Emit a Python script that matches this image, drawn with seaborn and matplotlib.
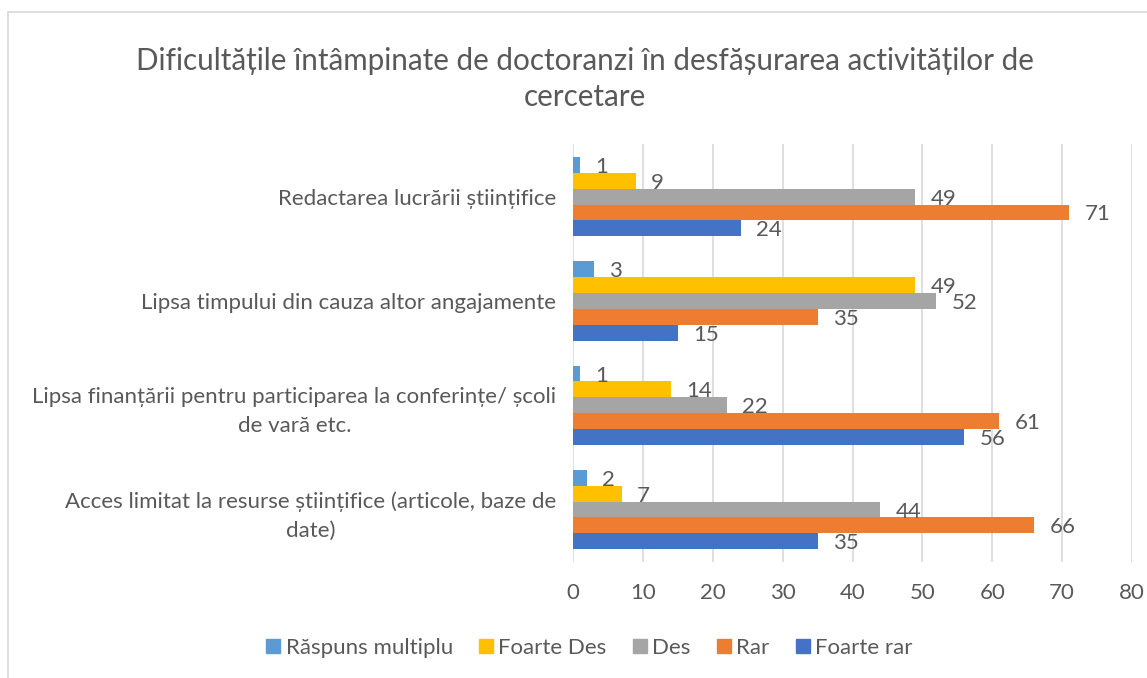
import matplotlib
matplotlib.use("Agg")
import matplotlib.pyplot as plt
import seaborn as sns
import pandas as pd
from matplotlib.lines import Line2D

categories = [
    "Redactarea lucrării științifice",
    "Lipsa timpului din cauza altor angajamente",
    "Lipsa finanțării pentru participarea la conferințe/ școli\nde vară etc.",
    "Acces limitat la resurse științifice (articole, baze de\ndate)",
]
series = ["Răspuns multiplu", "Foarte Des", "Des", "Rar", "Foarte rar"]
raspuns_multiplu = [1, 3, 1, 2]
foarte_des = [9, 49, 14, 7]
des = [49, 52, 22, 44]
rar = [71, 35, 61, 66]
foarte_rar = [24, 15, 56, 35]
colors = ["#5B9BD5", "#FFC000", "#A5A5A5", "#ED7D31", "#4472C4"]
title = "Dificultățile întâmpinate de doctoranzi în desfășurarea activităților de\ncercetare"
xticks = [0, 10, 20, 30, 40, 50, 60, 70, 80]

values = [raspuns_multiplu, foarte_des, des, rar, foarte_rar]
rows = []
for s, vals in zip(series, values):
    for c, v in zip(categories, vals):
        rows.append({"Categorie": c, "Serie": s, "Valoare": v})
df = pd.DataFrame(rows)

sns.set_theme(style="white")
plt.rcParams["font.family"] = ["Lato", "DejaVu Sans"]
text_color = "#595959"
fs = 16

fig = plt.figure(figsize=(11.47, 6.78), dpi=100)
ax = fig.add_axes([0.4996, 0.1715, 0.4873, 0.6154])

sns.barplot(data=df, y="Categorie", x="Valoare", hue="Serie", order=categories,
            hue_order=series, palette=colors, saturation=1, orient="h",
            width=0.76, gap=0, linewidth=0, ax=ax, legend=False)

for cont in ax.containers:
    labels = ax.bar_label(cont, padding=11, fontsize=fs, color=text_color)
    for t in labels:
        t.set_va("center_baseline")

ax.set_xlim(0, 80)
ax.set_ylim(3.5, -0.5)
ax.set_xticks(xticks)
ax.set_xticklabels([str(t) for t in xticks])
ax.set_yticks(range(len(categories)))
ax.set_yticklabels(categories, multialignment="center", linespacing=1.55)
ax.xaxis.grid(True, color="#D9D9D9", linewidth=1.2)
ax.set_axisbelow(True)
for sp in ax.spines.values():
    sp.set_visible(False)
ax.set_xlabel("")
ax.set_ylabel("")
ax.tick_params(axis="x", length=0, pad=15, labelsize=fs, labelcolor=text_color)
ax.tick_params(axis="y", length=0, pad=12, labelsize=fs, labelcolor=text_color)

fig.text(0.5096, 0.884, title, ha="center", va="center", fontsize=21.3,
         color=text_color, linespacing=1.35)

handles = [Line2D([0], [0], marker="s", linestyle="none", markersize=10,
                  markerfacecolor=c, markeredgecolor=c) for c in colors]
fig.legend(handles, series, loc="center", bbox_to_anchor=(0.512, 0.044), ncol=5,
           frameon=False, fontsize=fs, handletextpad=0.05, columnspacing=1.0,
           handlelength=1.0, labelcolor=text_color)

# chart border
fig.add_artist(Line2D([0.007, 1.0], [0.982, 0.982], transform=fig.transFigure,
                      color="#D9D9D9", linewidth=1.2))
fig.add_artist(Line2D([0.007, 0.007], [0.0, 0.982], transform=fig.transFigure,
                      color="#D9D9D9", linewidth=1.2))

fig.savefig("out.png", dpi=100)
